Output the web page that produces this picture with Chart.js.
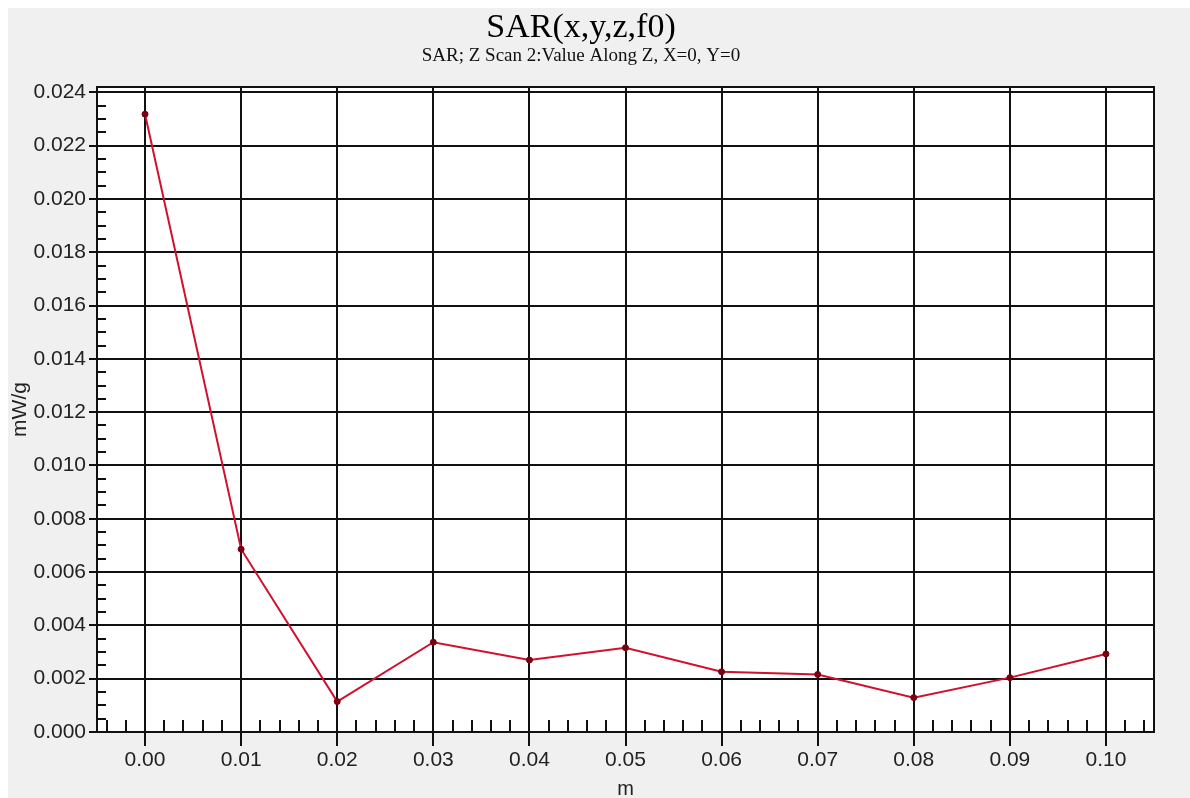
<!DOCTYPE html>
<html>
<head>
<meta charset="utf-8">
<script src="https://cdn.jsdelivr.net/npm/chart.js@4.4.1/dist/chart.umd.min.js"></script>
<style>
  html, body { margin: 0; padding: 0; background: #ffffff; }
  #c { display: block; }
</style>
</head>
<body>
<canvas id="c" width="1190" height="798"></canvas>
<script>
// ---- data ----
const zPositions = [0.00, 0.01, 0.02, 0.03, 0.04, 0.05, 0.06, 0.07, 0.08, 0.09, 0.10];
const sarValues  = [0.02318, 0.00686, 0.00114, 0.00337, 0.00270, 0.00316, 0.00226, 0.00216, 0.00129, 0.00204, 0.00293];
const xTickValues = [0.00, 0.01, 0.02, 0.03, 0.04, 0.05, 0.06, 0.07, 0.08, 0.09, 0.10];
const xTickLabels = ['0.00','0.01','0.02','0.03','0.04','0.05','0.06','0.07','0.08','0.09','0.10'];
const yTickValues = [0.000, 0.002, 0.004, 0.006, 0.008, 0.010, 0.012, 0.014, 0.016, 0.018, 0.020, 0.022, 0.024];
const yTickLabels = ['0.000','0.002','0.004','0.006','0.008','0.010','0.012','0.014','0.016','0.018','0.020','0.022','0.024'];
const titleText = 'SAR(x,y,z,f0)';
const subtitleText = 'SAR; Z Scan 2:Value Along Z, X=0, Y=0';
const xTitle = 'm';
const yTitle = 'mW/g';

const points = zPositions.map((x, i) => ({ x: x, y: sarValues[i] }));

const bgPlugin = {
  id: 'bg',
  beforeDraw(chart) {
    const ctx = chart.ctx;
    ctx.save();
    ctx.fillStyle = '#ffffff';
    ctx.fillRect(0, 0, chart.width, chart.height);
    ctx.fillStyle = '#f0f0f0';
    ctx.fillRect(8, 8, chart.width - 8, chart.height - 8);
    const a = chart.chartArea;
    ctx.fillStyle = '#ffffff';
    ctx.fillRect(a.left, a.top, a.right - a.left, a.bottom - a.top);
    ctx.restore();
  }
};

const framePlugin = {
  id: 'frame',
  afterDraw(chart) {
    const ctx = chart.ctx;
    const a = chart.chartArea;
    const xs = chart.scales.x, ys = chart.scales.y;
    ctx.save();
    ctx.strokeStyle = '#111111';
    ctx.lineWidth = 2;
    // minor x ticks every 0.002, drawn up from the bottom
    ctx.beginPath();
    for (let k = -2; k <= 52; k++) {
      if (k % 5 === 0) continue;
      const v = k * 0.002;
      if (v < xs.min || v > xs.max) continue;
      const px = Math.round(xs.getPixelForValue(v));
      ctx.moveTo(px, a.bottom);
      ctx.lineTo(px, a.bottom - 12);
    }
    // minor y ticks every 0.0005, drawn right from the left edge
    for (let k = 0; k <= 48; k++) {
      if (k % 4 === 0) continue;
      const v = k * 0.0005;
      if (v > ys.max) continue;
      const py = Math.round(ys.getPixelForValue(v));
      ctx.moveTo(a.left, py);
      ctx.lineTo(a.left + 9, py);
    }
    ctx.stroke();
    ctx.lineWidth = 2;
    ctx.strokeRect(a.left, a.top, a.right - a.left, a.bottom - a.top);
    ctx.restore();
  }
};

new Chart(document.getElementById('c'), {
  type: 'line',
  data: {
    datasets: [{
      data: points,
      borderColor: '#d0102e',
      borderWidth: 2,
      backgroundColor: '#7a0010',
      pointBackgroundColor: '#7a0010',
      pointBorderColor: '#7a0010',
      pointRadius: 3,
      pointBorderWidth: 1,
      tension: 0,
      fill: false
    }]
  },
  options: {
    responsive: false,
    animation: false,
    devicePixelRatio: 1,
    layout: { padding: { left: 8, right: 36, top: 0, bottom: 0 } },
    plugins: {
      legend: { display: false },
      tooltip: { enabled: false },
      title: {
        display: true,
        text: titleText,
        color: '#000000',
        font: { family: '"Liberation Serif", "Times New Roman", serif', size: 34, weight: 'normal', lineHeight: 0.8 },
        padding: { top: 14, bottom: 0 }
      },
      subtitle: {
        display: true,
        text: subtitleText,
        color: '#111111',
        font: { family: '"Liberation Serif", "Times New Roman", serif', size: 19, weight: 'normal', lineHeight: 1.0 },
        padding: { top: 5.5, bottom: 21.3 }
      }
    },
    scales: {
      x: {
        type: 'linear',
        min: -0.005,
        max: 0.105,
        afterFit(scale) { scale.height = 66; },
        afterBuildTicks(scale) { scale.ticks = xTickValues.map(v => ({ value: v })); },
        ticks: {
          color: '#222222',
          font: { family: '"Liberation Sans", Arial, sans-serif', size: 21 },
          padding: 2,
          maxRotation: 0,
          autoSkip: false,
          callback: (value, index) => xTickLabels[index]
        },
        grid: { color: '#111111', lineWidth: 2, tickLength: 14, drawTicks: true },
        border: { display: true, color: '#111111', width: 2 },
        title: {
          display: true,
          text: xTitle,
          color: '#222222',
          font: { family: '"Liberation Sans", Arial, sans-serif', size: 20, lineHeight: 0.9 },
          padding: { top: 0, bottom: 0 }
        }
      },
      y: {
        type: 'linear',
        min: 0,
        max: 0.0242,
        afterFit(scale) { scale.width = 89; },
        afterBuildTicks(scale) { scale.ticks = yTickValues.map(v => ({ value: v })); },
        ticks: {
          color: '#222222',
          font: { family: '"Liberation Sans", Arial, sans-serif', size: 21 },
          padding: 3,
          autoSkip: false,
          callback: (value, index) => yTickLabels[index]
        },
        grid: { color: '#111111', lineWidth: 2, tickLength: 8, drawTicks: true },
        border: { display: true, color: '#111111', width: 2 },
        title: {
          display: true,
          text: yTitle,
          color: '#222222',
          font: { family: '"Liberation Sans", Arial, sans-serif', size: 21 },
          padding: { top: 0, bottom: 0 }
        }
      }
    }
  },
  plugins: [bgPlugin, framePlugin]
});
</script>
</body>
</html>
